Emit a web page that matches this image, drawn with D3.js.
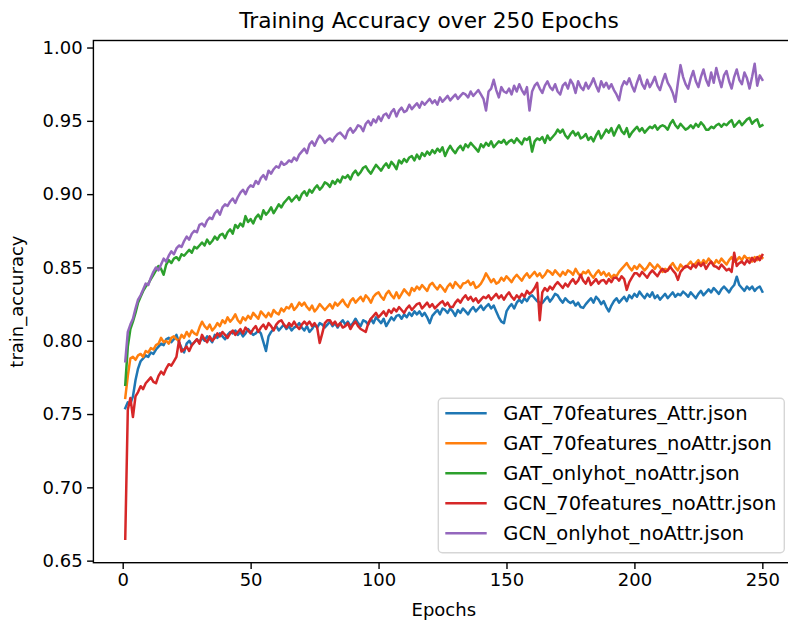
<!DOCTYPE html>
<html>
<head>
<meta charset="utf-8">
<script src="https://cdn.jsdelivr.net/npm/d3@7"></script>
<style>
  body { margin: 0; background: #fff; }
  text { font-family: "DejaVu Sans", sans-serif; fill: #000; }
</style>
</head>
<body>
<script>
/*
*    training accuracy chart
*/

var seriesNames = ["GAT_70features_Attr.json", "GAT_70features_noAttr.json", "GAT_onlyhot_noAttr.json",
    "GCN_70features_noAttr.json", "GCN_onlyhot_noAttr.json"];
var seriesColors = ["#1f77b4", "#ff7f0e", "#2ca02c", "#d62728", "#9467bd"];
var xTicks = [0, 50, 100, 150, 200, 250];
var yTicks = [0.65, 0.70, 0.75, 0.80, 0.85, 0.90, 0.95, 1.00];

// train accuracy per epoch (epochs 1..250)
var gat70Attr = [
    .754, .758, .757, .762, .773, .781, .786, .788, .790, .789,
    .792, .791, .794, .796, .798, .797, .801, .802, .799, .801,
    .804, .799, .795, .792, .798, .800, .797, .799, .801, .799,
    .802, .800, .803, .801, .799, .804, .802, .805, .803, .801,
    .804, .806, .805, .807, .804, .806, .803, .805, .808, .806,
    .804, .805, .807, .805, .799, .793, .803, .806, .808, .810,
    .807, .809, .811, .808, .810, .807, .809, .810, .812, .809,
    .807, .810, .806, .808, .811, .809, .812, .811, .809, .811,
    .813, .810, .812, .809, .812, .814, .811, .813, .810, .812,
    .815, .812, .810, .814, .813, .811, .815, .812, .816, .814,
    .812, .815, .810, .813, .816, .814, .817, .8176, .815, .818,
    .816, .819, .817, .820, .818, .820, .817, .819, .816, .812,
    .817, .819, .821, .818, .822, .821, .819, .822, .820, .817,
    .821, .819, .822, .820, .818, .821, .823, .820, .822, .824,
    .821, .8233, .825, .822, .824, .820, .816, .813, .812, .820,
    .823, .825, .822, .826, .828, .826, .829, .827, .830, .831,
    .829, .827, .826, .8257, .828, .830, .8267, .829, .832, .831,
    .828, .826, .829, .827, .8257, .827, .824, .826, .823, .8224,
    .825, .827, .829, .826, .830, .828, .825, .827, .823, .820,
    .824, .827, .829, .826, .828, .830, .827, .831, .829, .832,
    .830, .8335, .831, .829, .832, .830, .833, .829, .831, .828,
    .830, .832, .829, .831, .833, .830, .832, .831, .8335, .832,
    .830, .833, .831, .829, .832, .834, .831, .833, .835, .833,
    .836, .834, .832, .835, .837, .835, .833, .836, .838, .8437,
    .838, .836, .834, .837, .835, .837, .834, .836, .837, .8335
];

var gat70NoAttr = [
    .761, .776, .788, .789, .787, .790, .791, .789, .793, .792,
    .795, .794, .797, .798, .802, .799, .800, .798, .802, .803,
    .801, .800, .804, .802, .806, .803, .807, .805, .804, .809,
    .813, .810, .808, .811, .807, .809, .812, .810, .814, .812,
    .816, .813, .815, .818, .814, .812, .816, .814, .817, .815,
    .819, .817, .815, .820, .818, .816, .819, .8165, .821, .819,
    .818, .822, .820, .823, .822, .825, .821, .823, .826, .824,
    .826, .823, .821, .824, .820, .822, .825, .823, .821, .823,
    .825, .822, .826, .824, .826, .828, .825, .823, .827, .829,
    .826, .828, .830, .827, .831, .829, .826, .830, .832, .833,
    .830, .828, .832, .834, .831, .829, .833, .829, .832, .835,
    .833, .831, .836, .834, .837, .835, .838, .836, .834, .838,
    .8395, .837, .835, .838, .836, .8335, .837, .839, .836, .840,
    .838, .836, .839, .8395, .841, .838, .840, .836, .837, .839,
    .842, .846, .843, .840, .842, .839, .840, .843, .841, .844,
    .842, .840, .843, .845, .843, .841, .844, .846, .843, .845,
    .847, .844, .846, .843, .845, .848, .847, .845, .848, .846,
    .844, .847, .845, .848, .847, .845, .849, .846, .844, .847,
    .846, .848, .845, .843, .846, .848, .845, .847, .844, .846,
    .843, .845, .844, .847, .849, .851, .853, .850, .848, .851,
    .849, .852, .850, .848, .850, .853, .851, .849, .852, .850,
    .847, .849, .848, .851, .853, .850, .848, .852, .850, .850,
    .852, .854, .851, .853, .855, .852, .855, .853, .856, .854,
    .852, .855, .853, .856, .854, .852, .855, .857, .854, .855,
    .857, .855, .858, .856, .8565, .854, .857, .855, .858, .8565
];

var gatOnlyhot = [
    .770, .796, .808, .813, .819, .826, .830, .834, .837, .839,
    .842, .845, .848, .851, .849, .845, .852, .855, .853, .856,
    .857, .855, .859, .858, .860, .862, .860, .864, .863, .865,
    .867, .865, .869, .866, .868, .871, .869, .872, .873, .870,
    .874, .876, .873, .879, .877, .880, .878, .885, .881, .883,
    .880, .884, .886, .883, .889, .886, .888, .891, .887, .890,
    .893, .891, .894, .896, .898, .895, .897, .899, .896, .900,
    .902, .899, .903, .901, .904, .906, .903, .905, .908, .907,
    .905, .909, .907, .910, .908, .912, .911, .913, .910, .914,
    .916, .913, .915, .918, .919, .916, .914, .917, .920, .918,
    .916, .919, .921, .918, .922, .920, .917, .923, .921, .924,
    .922, .925, .926, .923, .927, .924, .928, .926, .929, .927,
    .930, .928, .931, .929, .932, .926, .930, .933, .930, .928,
    .931, .933, .930, .934, .932, .935, .933, .931, .929, .934,
    .932, .935, .933, .936, .932, .934, .936, .935, .937, .934,
    .936, .937, .935, .938, .936, .934, .938, .937, .939, .929,
    .936, .938, .937, .939, .935, .940, .937, .939, .941, .944,
    .942, .944, .940, .938, .941, .943, .940, .942, .938, .939,
    .941, .937, .939, .936, .940, .943, .938, .941, .944, .942,
    .945, .940, .944, .947, .943, .941, .945, .939, .942, .944,
    .946, .943, .945, .942, .944, .946, .945, .947, .944, .946,
    .947, .946, .944, .948, .9505, .947, .945, .948, .946, .944,
    .945, .947, .945, .948, .946, .949, .947, .944, .944, .946,
    .945, .947, .948, .946, .948, .947, .949, .9505, .946, .948,
    .950, .947, .949, .951, .952, .948, .950, .951, .946, .947
];

var gcn70NoAttr = [
    .665, .753, .761, .748, .762, .765, .769, .767, .771, .773,
    .775, .772, .771, .776, .779, .777, .781, .784, .783, .786,
    .789, .800, .7926, .794, .796, .793, .797, .799, .801, .798,
    .804, .801, .799, .803, .800, .802, .805, .803, .806, .804,
    .802, .805, .807, .804, .806, .808, .805, .809, .807, .805,
    .808, .810, .806, .809, .811, .808, .812, .810, .807, .811,
    .813, .814, .811, .809, .812, .810, .813, .810, .808, .811,
    .813, .811, .813, .810, .812, .809, .7985, .805, .812, .814,
    .814, .811, .813, .810, .812, .809, .810, .812, .808, .811,
    .813, .810, .808, .807, .806, .812, .815, .817, .819, .816,
    .818, .820, .817, .821, .819, .822, .820, .823, .821, .819,
    .822, .824, .821, .823, .825, .8257, .822, .824, .826, .823,
    .825, .822, .824, .8257, .827, .824, .826, .823, .823, .826,
    .828, .826, .829, .831, .828, .830, .827, .829, .826, .828,
    .830, .829, .831, .828, .830, .832, .829, .831, .828, .831,
    .833, .830, .828, .831, .829, .832, .830, .834, .832, .8335,
    .836, .8395, .814, .833, .836, .834, .837, .835, .838, .840,
    .838, .836, .839, .837, .840, .842, .839, .841, .845, .841,
    .839, .843, .838, .840, .842, .839, .841, .8415, .839, .842,
    .840, .843, .843, .841, .844, .842, .8347, .840, .843, .846,
    .846, .844, .847, .845, .843, .846, .848, .846, .844, .847,
    .849, .847, .848, .8505, .848, .846, .8415, .847, .849, .851,
    .8505, .849, .852, .850, .853, .851, .853, .849, .852, .854,
    .851, .8505, .849, .852, .850, .848, .849, .847, .860, .851,
    .853, .854, .852, .855, .853, .8565, .854, .857, .855, .8585
];

var gcnOnlyhot = [
    .786, .806, .811, .815, .822, .828, .831, .835, .839, .838,
    .843, .847, .850, .848, .852, .856, .854, .858, .861, .859,
    .863, .865, .864, .868, .871, .869, .873, .875, .874, .879,
    .880, .878, .882, .884, .883, .887, .889, .886, .891, .893,
    .892, .895, .897, .894, .898, .901, .903, .900, .904, .906,
    .905, .909, .907, .911, .913, .910, .916, .914, .917, .919,
    .918, .922, .920, .921, .923, .922, .925, .923, .927, .929,
    .931, .928, .934, .936, .933, .937, .940, .938, .935, .937,
    .938, .936, .939, .941, .942, .940, .938, .943, .945, .942,
    .944, .947, .946, .943, .948, .950, .947, .951, .949, .953,
    .950, .954, .955, .952, .956, .958, .953, .957, .959, .956,
    .957, .961, .958, .960, .962, .959, .963, .961, .963, .965,
    .962, .964, .961, .966, .963, .965, .967, .964, .966, .968,
    .965, .967, .969, .968, .966, .970, .967, .969, .971, .968,
    .965, .957, .970, .972, .978, .971, .966, .973, .970, .969,
    .972, .968, .974, .970, .975, .971, .968, .973, .957, .970,
    .974, .976, .972, .969, .974, .977, .973, .971, .975, .970,
    .968, .974, .976, .972, .978, .975, .969, .977, .973, .971,
    .976, .972, .975, .979, .974, .970, .977, .973, .976, .972,
    .975, .971, .968, .964, .973, .977, .975, .979, .974, .970,
    .976, .981, .975, .972, .978, .973, .976, .980, .974, .971,
    .977, .982, .976, .973, .969, .963, .976, .988, .980, .975,
    .972, .979, .984, .977, .973, .980, .985, .978, .974, .983,
    .976, .986, .979, .973, .981, .984, .977, .972, .980, .985,
    .978, .975, .983, .979, .972, .980, .989, .974, .981, .978
];

var allSeries = [gat70Attr, gat70NoAttr, gatOnlyhot, gcn70NoAttr, gcnOnlyhot];

var width = 788;
var height = 625;
var plot = {left: 93.4, right: 794.2, top: 40.5, bottom: 562.7};

var svg = d3.select("body")
    .append("svg")
        .attr("width", width)
        .attr("height", height);

// matplotlib-style 5% margins around the data
var x = d3.scaleLinear().domain([-11.45, 262.45]).range([plot.left, plot.right]);
var y = d3.scaleLinear().domain([0.6486, 1.0048]).range([plot.bottom, plot.top]);

var line = d3.line()
    .x((d, i) => { return x(i + 1); })
    .y((d) => { return y(d); });

svg.selectAll("path.series")
    .data(allSeries)
    .enter().append("path")
        .attr("class", "series")
        .attr("d", line)
        .attr("fill", "none")
        .attr("stroke", (d, i) => { return seriesColors[i]; })
        .attr("stroke-width", 2.5)
        .attr("stroke-linejoin", "round")
        .attr("stroke-linecap", "square");

// axes
var xAxis = d3.axisBottom(x).tickValues(xTicks).tickSize(6.3).tickPadding(4.5).tickSizeOuter(0);
var yAxis = d3.axisLeft(y).tickValues(yTicks).tickSize(6.3).tickPadding(4.5).tickSizeOuter(0)
    .tickFormat(d3.format(".2f"));

var xAxisGroup = svg.append("g")
    .attr("transform", "translate(0, " + plot.bottom + ")")
    .call(xAxis);
var yAxisGroup = svg.append("g")
    .attr("transform", "translate(" + plot.left + ", 0)")
    .call(yAxis);

[xAxisGroup, yAxisGroup].forEach((g) => {
    g.select(".domain").remove();
    g.selectAll(".tick line").attr("stroke", "#000").attr("stroke-width", 1.4);
    g.selectAll(".tick text")
        .attr("font-size", "18px")
        .attr("font-family", "DejaVu Sans, sans-serif")
        .attr("fill", "#000");
});

// spines
svg.append("rect")
    .attr("x", plot.left)
    .attr("y", plot.top)
    .attr("width", plot.right - plot.left)
    .attr("height", plot.bottom - plot.top)
    .attr("fill", "none")
    .attr("stroke", "#000")
    .attr("stroke-width", 1.4);

// labels
svg.append("text")
    .attr("x", 429)
    .attr("y", 28)
    .attr("font-size", "21.7px")
    .attr("text-anchor", "middle")
    .text("Training Accuracy over 250 Epochs");

svg.append("text")
    .attr("x", 443.8)
    .attr("y", 616)
    .attr("font-size", "18px")
    .attr("text-anchor", "middle")
    .text("Epochs");

svg.append("text")
    .attr("transform", "translate(23, " + ((plot.top + plot.bottom) / 2) + ") rotate(-90)")
    .attr("font-size", "18px")
    .attr("text-anchor", "middle")
    .text("train_accuracy");

// legend
var legend = svg.append("g").attr("transform", "translate(438.3, 398.3)");

legend.append("rect")
    .attr("width", 346)
    .attr("height", 154.4)
    .attr("rx", 4)
    .attr("fill", "#fff")
    .attr("fill-opacity", 0.8)
    .attr("stroke", "#d6d6d6")
    .attr("stroke-width", 1.4);

var items = legend.selectAll("g.item")
    .data(seriesNames)
    .enter().append("g")
        .attr("class", "item")
        .attr("transform", (d, i) => { return "translate(0, " + (15 + i * 30) + ")"; });

items.append("line")
    .attr("x1", 7)
    .attr("x2", 48.4)
    .attr("stroke", (d, i) => { return seriesColors[i]; })
    .attr("stroke-width", 2.5);

items.append("text")
    .attr("x", 65)
    .attr("y", 7)
    .attr("font-size", "19.5px")
    .text((d) => { return d; });
</script>
</body>
</html>
